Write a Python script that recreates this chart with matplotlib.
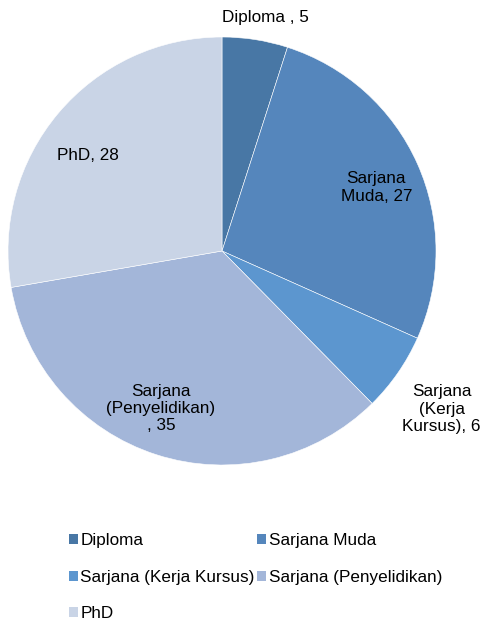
import numpy as np
import matplotlib.pyplot as plt
from matplotlib.patches import Patch

plt.rcParams['font.family'] = ['Liberation Sans', 'DejaVu Sans']

labels = ['Diploma', 'Sarjana Muda', 'Sarjana (Kerja Kursus)', 'Sarjana (Penyelidikan)', 'PhD']
values = [5, 27, 6, 35, 28]
slice_text = ['Diploma , 5', 'Sarjana\nMuda, 27', 'Sarjana\n(Kerja\nKursus), 6',
              'Sarjana\n(Penyelidikan)\n, 35', 'PhD, 28']
colors = ['#4877a5', '#5586bc', '#5c96cf', '#a3b6d9', '#c9d4e6']
# label placement: distance from centre (radius units), angle nudge (deg)
label_dist = [1.11, 0.78, 1.265, 0.79, 0.77]
label_nudge = [-1.5, -1.7, -1.0, -3.4, 4.5]

fig = plt.figure(figsize=(4.85, 6.22), dpi=100)
cx, cy, r = 222 / 485, 1 - 251 / 622, 214
ax = fig.add_axes([cx - r / 485, cy - r / 622, 2 * r / 485, 2 * r / 622])

wedges, _ = ax.pie(values, colors=colors, startangle=90, counterclock=False,
                   radius=1, wedgeprops=dict(edgecolor='white', linewidth=0.4))
ax.set_xlim(-1, 1)
ax.set_ylim(-1, 1)
ax.set_aspect('equal')
ax.axis('off')

for w, txt, d, nd in zip(wedges, slice_text, label_dist, label_nudge):
    ang = np.deg2rad((w.theta1 + w.theta2) / 2 + nd)
    ax.text(d * np.cos(ang), d * np.sin(ang), txt, ha='center', va='center',
            fontsize=12.3, linespacing=1.2, clip_on=False)

order = [0, 2, 4, 1, 3]
handles = [Patch(facecolor=colors[i], edgecolor='none') for i in order]
fig.legend(handles, [labels[i] for i in order], ncol=2, loc='upper left',
           bbox_to_anchor=(54 / 485, 1 - 518 / 622), frameon=False, fontsize=12.3,
           handlelength=0.5, handleheight=0.5, handletextpad=0.15,
           labelspacing=1.25, columnspacing=0.15)

fig.savefig('out.png', dpi=100)
